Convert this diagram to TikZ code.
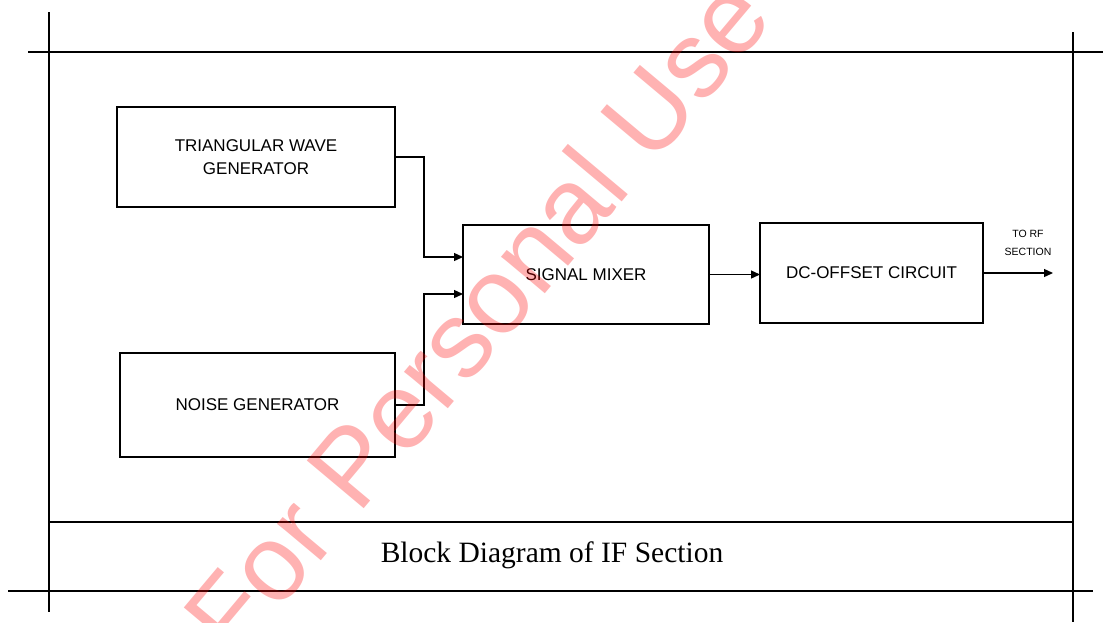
\documentclass[tikz,border=0pt]{standalone}
\usepackage{fontspec}
\setmainfont{Liberation Sans}
\newfontfamily\titlefont{Liberation Serif}
\usetikzlibrary{arrows.meta}
\begin{document}
\begin{tikzpicture}[x=1pt,y=-1pt,
  frame/.style={line width=2.4pt,black},
  blockbox/.style={draw,line width=1.3pt,inner sep=0pt,outer sep=0pt,align=center,
    font=\fontsize{17}{23}\selectfont},
  conn/.style={line width=1.3pt,-{Triangle[length=9pt,width=8pt]}},
  small/.style={font=\fontsize{10.5}{12}\selectfont,inner sep=0pt}]
\useasboundingbox (0,0) rectangle (1103,622);
\fill[white] (0,0) rectangle (1103,622);
% frame
\draw[frame] (28,52) -- (1103,52);
\draw[frame] (49,12) -- (49,612);
\draw[frame] (1073,32) -- (1073,622);
\draw[frame] (49,522) -- (1073,522);
\draw[frame] (8,591) -- (1093,591);
% blocks
\node[blockbox,minimum width=278pt,minimum height=100pt] (tri) at (256,157) {TRIANGULAR WAVE\\GENERATOR};
\node[blockbox,minimum width=275pt,minimum height=104pt] (noise) at (257.5,405) {NOISE GENERATOR};
\node[blockbox,minimum width=246pt,minimum height=99pt] (mix) at (586,274.5) {SIGNAL MIXER};
\node[blockbox,minimum width=223pt,minimum height=100pt] (dc) at (871.5,273) {DC-OFFSET CIRCUIT};
% connectors
\coordinate (m1) at ([yshift=17.5pt]mix.west);
\coordinate (m2) at ([yshift=-19.5pt]mix.west);
\draw[conn] (tri.east) -- ++(29,0) |- (m1);
\draw[conn] (noise.east) -- ++(29,0) |- (m2);
\draw[conn] (mix.east) -- (mix.east -| dc.west);
\coordinate (out) at (1053,273);
\draw[conn] (dc.east) -- (out);
\node[small] (l1) at (1028,234) {TO RF};
\node[small] (l2) at (1028,252) {SECTION};
% title
\node[font=\titlefont\fontsize{29.5}{32}\selectfont,inner sep=0pt] (title) at (552,555) {Block Diagram of IF Section};
% watermark
\node[rotate=50,text=red,text opacity=0.3,inner sep=0pt,font=\fontsize{108}{108}\selectfont] (wm) at (476,316) {For Personal Use};
\end{tikzpicture}
\end{document}
